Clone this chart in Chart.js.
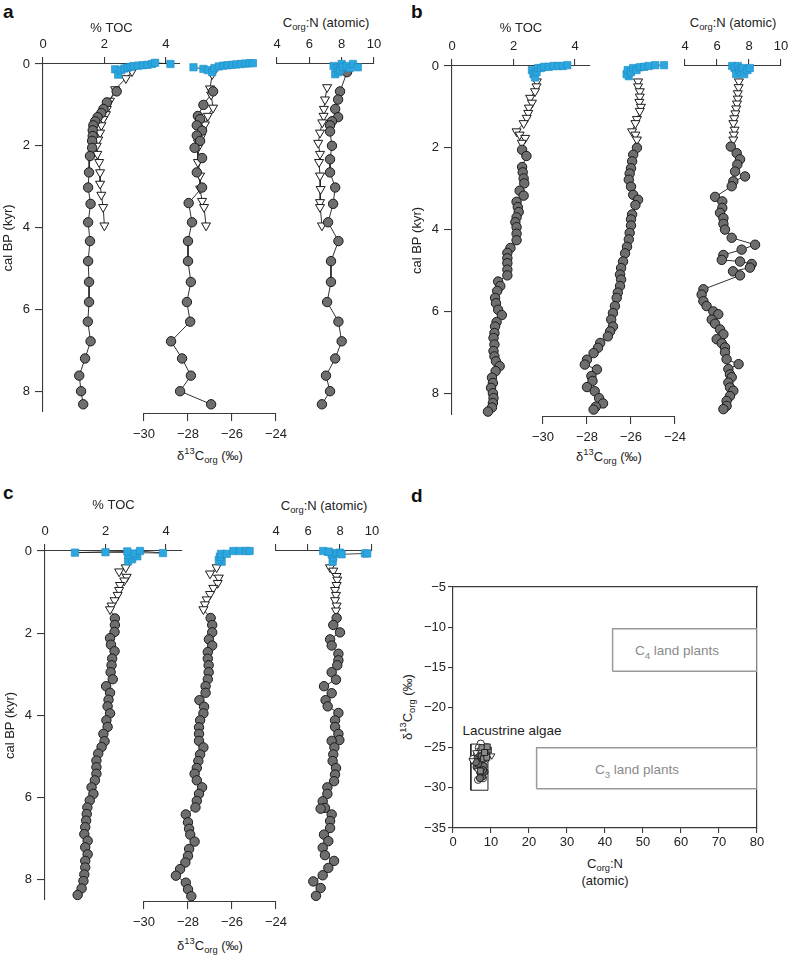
<!DOCTYPE html>
<html><head><meta charset="utf-8">
<script src="https://cdn.jsdelivr.net/npm/chart.js@4.4.1/dist/chart.umd.min.js"></script>
<style>
html,body{margin:0;padding:0;background:#fff;}
#stage{position:relative;width:788px;height:957px;overflow:hidden;font-family:"Liberation Sans",Arial,sans-serif;color:#222;}
#stage canvas{position:absolute;}
.lbl{position:absolute;white-space:nowrap;font-size:13px;line-height:15px;transform:translate(-50%,-50%);}
.big{font-size:13.5px;line-height:16px;}
.gray{color:#8a8a8a;}
.rot{transform:translate(-50%,-50%) rotate(-90deg);}
.panel{position:absolute;font-weight:bold;font-size:19px;line-height:19px;color:#111;}
sub,sup{font-size:72%;line-height:0;}
</style></head><body><div id="stage">
<div class="panel" style="left:3px;top:2px">a</div>
<div class="panel" style="left:411px;top:2px">b</div>
<div class="panel" style="left:3px;top:483px">c</div>
<div class="panel" style="left:411px;top:486px">d</div>
<div class="lbl" style="left:326px;top:22px">C<sub>org</sub>:N (atomic)</div>
<div class="lbl" style="left:733px;top:22px">C<sub>org</sub>:N (atomic)</div>
<div class="lbl" style="left:324px;top:505px">C<sub>org</sub>:N (atomic)</div>
<div class="lbl" style="left:210px;top:455px">δ<sup>13</sup>C<sub>org</sub> (‰)</div>
<div class="lbl" style="left:609px;top:456px">δ<sup>13</sup>C<sub>org</sub> (‰)</div>
<div class="lbl" style="left:210px;top:945px">δ<sup>13</sup>C<sub>org</sub> (‰)</div>
<div class="lbl rot" style="left:407px;top:707px">δ<sup>13</sup>C<sub>org</sub> (‰)</div>
<div class="lbl" style="left:605px;top:863px">C<sub>org</sub>:N</div>
<div class="lbl" style="left:605px;top:880px">(atomic)</div>
<div class="lbl big gray" style="left:677px;top:651px">C<sub>4</sub> land plants</div>
<div class="lbl big gray" style="left:637px;top:770px">C<sub>3</sub> land plants</div>
<div class="lbl big" style="left:512px;top:731px">Lacustrine algae</div>
</div>
<script>
// ---------- tick labels ----------
const ageTicks = [0, 2, 4, 6, 8];
const tocTicks = [0, 2, 4];
const d13Ticks = [-30, -28, -26, -24];
const cnTicks = [4, 6, 8, 10];
const dXTicks = [0, 10, 20, 30, 40, 50, 60, 70, 80];
const dYTicks = [-5, -10, -15, -20, -25, -30, -35];

// ---------- panel a : [age (kyr BP), value] ----------
const aTocSq = [[0.13,2.35],[0.26,2.45],[0.15,2.55],[0.11,2.65],[0.09,2.75],[0.07,2.85],[0.05,2.95],[0.04,3.1],[0.03,3.25],[0.02,3.4],[0.0,3.55],[-0.03,3.65],[0.0,4.15]];
const aTocTri = [[0.18,2.9],[0.35,2.7],[0.62,2.35],[0.9,2.18],[1.1,2.08],[1.23,2.05],[1.35,1.96],[1.5,1.9],[1.68,1.86],[1.85,1.8],[2.0,1.75],[2.2,1.77],[2.4,1.83],[2.65,1.86],[2.93,1.86],[3.2,1.9],[3.5,1.96],[3.95,2.0]];
const aTocCirc = [[0.67,2.4],[0.94,2.08],[1.1,1.97],[1.2,1.9],[1.3,1.78],[1.4,1.7],[1.5,1.64],[1.62,1.62],[1.76,1.62],[1.88,1.6],[2.05,1.6],[2.25,1.53],[2.65,1.5],[3.02,1.47],[3.42,1.55],[3.87,1.47],[4.33,1.53],[4.82,1.47],[5.33,1.5],[5.82,1.5],[6.3,1.46],[6.78,1.55],[7.2,1.37],[7.62,1.18],[8.0,1.24],[8.32,1.31]];
const aD13Sq = [[0.08,-27.75],[0.12,-27.3],[0.15,-27.1],[0.2,-26.9],[0.1,-26.8],[0.06,-26.6],[0.04,-26.4],[0.03,-26.2],[0.02,-26.0],[0.01,-25.8],[0.0,-25.6],[-0.01,-25.4],[-0.02,-25.2],[-0.02,-25.05]];
const aD13Tri = [[0.25,-26.9],[0.6,-27.0],[0.75,-26.95],[1.07,-26.86],[1.27,-27.1],[1.48,-27.23],[1.63,-27.36],[1.78,-27.4],[1.92,-27.55],[2.05,-27.55],[2.4,-27.55],[2.73,-27.45],[3.05,-27.45],[3.35,-27.36],[3.5,-27.27],[3.95,-27.18]];
const aD13Circ = [[0.67,-26.86],[1.0,-27.3],[1.27,-27.55],[1.35,-27.45],[1.5,-27.6],[1.63,-27.36],[1.75,-27.6],[1.88,-27.45],[2.05,-27.7],[2.3,-27.36],[2.65,-27.6],[3.02,-27.36],[3.4,-27.97],[3.87,-27.82],[4.33,-28.0],[4.82,-28.0],[5.33,-27.87],[5.82,-28.05],[6.3,-27.9],[6.78,-28.77],[7.2,-28.27],[7.62,-27.87],[8.0,-28.36],[8.32,-26.95]];
const aCnSq = [[0.25,7.6],[0.05,7.5],[0.1,7.7],[0.2,7.8],[0.15,7.9],[0.0,8.0],[0.08,8.1],[0.05,8.3],[0.1,8.5],[0.0,8.7],[0.08,9.0]];
const aCnTri = [[0.57,7.1],[0.87,6.97],[1.1,6.9],[1.27,6.88],[1.43,6.8],[1.68,6.66],[1.93,6.55],[2.2,6.66],[2.4,6.6],[2.73,6.66],[3.06,6.7],[3.38,6.66],[3.5,6.66],[3.95,6.78]];
const aCnCirc = [[0.2,8.33],[0.67,7.9],[0.87,7.78],[1.1,7.6],[1.3,7.78],[1.4,7.4],[1.5,7.28],[1.65,7.28],[2.0,7.4],[2.33,7.28],[2.65,7.28],[3.02,7.6],[3.42,7.47],[3.87,7.16],[4.33,7.8],[4.82,7.34],[5.33,7.34],[5.82,7.1],[6.3,7.8],[6.78,8.0],[7.2,7.6],[7.62,7.03],[8.0,7.28],[8.32,6.78]];

// ---------- panel b ----------
const bTocSq = [[0.1,2.6],[0.2,2.65],[0.28,2.7],[0.15,2.75],[0.05,2.8],[0.05,2.9],[0.02,3.0],[0.02,3.15],[0.0,3.3],[0.0,3.45],[0.0,3.6],[-0.02,3.75]];
const bTocTri = [[0.38,2.76],[0.5,2.75],[0.62,2.7],[0.78,2.54],[0.9,2.6],[1.02,2.5],[1.15,2.48],[1.27,2.43],[1.4,2.33],[1.6,2.1],[1.68,2.2],[1.76,2.38],[1.88,2.27]];
const bTocCirc = [[2.05,2.28],[2.2,2.42],[2.47,2.28],[2.6,2.3],[2.75,2.33],[2.87,2.35],[3.05,2.2],[3.17,2.33],[3.32,2.1],[3.45,2.14],[3.57,2.17],[3.7,2.1],[3.82,2.06],[3.94,2.1],[4.1,2.1],[4.26,2.1],[4.45,1.9],[4.57,1.8],[4.7,1.8],[4.82,1.8],[4.98,1.8],[5.12,1.8],[5.27,1.5],[5.38,1.57],[5.5,1.47],[5.67,1.4],[5.8,1.43],[5.96,1.5],[6.09,1.62],[6.26,1.45],[6.37,1.4],[6.53,1.38],[6.65,1.35],[6.81,1.38],[6.97,1.35],[7.1,1.38],[7.22,1.43],[7.34,1.55],[7.46,1.42],[7.62,1.3],[7.75,1.33],[7.87,1.27],[8.0,1.33],[8.12,1.35],[8.24,1.33],[8.35,1.3],[8.45,1.17]];
const bD13Sq = [[0.25,-26.1],[0.2,-26.2],[0.1,-26.15],[0.15,-26.0],[0.05,-25.9],[0.1,-25.75],[0.03,-25.6],[0.02,-25.4],[0.0,-25.2],[-0.02,-24.9],[-0.02,-24.5]];
const bD13Tri = [[0.38,-25.68],[0.5,-25.68],[0.62,-25.6],[0.75,-25.6],[0.88,-25.62],[1.0,-25.55],[1.1,-25.6],[1.3,-25.73],[1.4,-25.8],[1.6,-25.95],[1.68,-25.8],[1.8,-25.73]];
const bD13Circ = [[2.0,-25.73],[2.17,-25.9],[2.33,-25.95],[2.5,-26.0],[2.63,-26.06],[2.78,-26.1],[2.95,-26.0],[3.15,-25.9],[3.27,-25.68],[3.4,-25.8],[3.63,-25.95],[3.75,-26.0],[3.9,-26.0],[4.08,-26.06],[4.24,-26.1],[4.42,-26.18],[4.58,-26.27],[4.78,-26.36],[4.94,-26.45],[5.1,-26.5],[5.22,-26.45],[5.38,-26.5],[5.54,-26.6],[5.67,-26.65],[5.87,-26.73],[6.04,-26.82],[6.2,-26.9],[6.37,-26.82],[6.49,-26.95],[6.61,-27.05],[6.77,-27.4],[6.89,-27.5],[7.02,-27.7],[7.18,-28.0],[7.3,-28.1],[7.42,-27.55],[7.58,-27.8],[7.7,-27.75],[7.85,-28.0],[7.95,-27.65],[8.12,-27.45],[8.25,-27.27],[8.33,-27.6],[8.4,-27.7]];
const bCnSq = [[0.0,6.95],[0.05,7.1],[0.2,7.2],[0.0,7.3],[0.1,7.4],[0.15,7.5],[0.05,7.6],[0.2,7.7],[0.1,7.9],[0.05,8.05]];
const bCnTri = [[0.38,7.37],[0.52,7.35],[0.67,7.3],[0.8,7.3],[0.92,7.25],[1.04,7.2],[1.16,7.15],[1.28,7.08],[1.4,7.02],[1.56,7.1],[1.68,7.05],[1.8,7.02]];
const bCnCirc = [[1.97,6.86],[2.13,7.23],[2.28,7.44],[2.41,7.27],[2.58,7.13],[2.7,7.75],[2.82,7.02],[2.94,6.92],[3.2,5.88],[3.31,6.33],[3.47,6.33],[3.59,6.19],[3.72,6.4],[3.86,6.4],[4.0,6.5],[4.2,6.92],[4.37,8.38],[4.49,7.54],[4.62,6.4],[4.74,6.3],[4.78,7.44],[4.84,8.17],[4.93,8.06],[5.02,7.0],[5.12,7.44],[5.46,5.15],[5.59,5.04],[5.75,5.15],[5.87,5.35],[6.0,5.77],[6.07,6.08],[6.2,5.67],[6.3,5.88],[6.44,6.19],[6.56,6.4],[6.68,5.98],[6.78,6.3],[6.88,6.5],[7.0,6.5],[7.17,6.6],[7.29,7.35],[7.41,6.71],[7.54,6.81],[7.61,6.92],[7.74,6.71],[7.86,6.81],[7.94,7.02],[8.07,6.81],[8.19,6.6],[8.31,6.6],[8.39,6.4]];

// ---------- panel c ----------
const cTocSq = [[0.25,2.75],[0.2,2.88],[0.13,3.05],[0.1,2.75],[0.06,2.95],[0.0,3.14],[0.05,3.9],[0.03,2.0],[0.04,0.99],[0.01,2.72]];
const cTocTri = [[0.4,2.67],[0.5,2.45],[0.63,2.7],[0.72,2.62],[0.83,2.48],[0.95,2.45],[1.07,2.4],[1.2,2.3],[1.33,2.2],[1.42,2.15]];
const cTocCirc = [[1.64,2.31],[1.8,2.31],[1.97,2.3],[2.12,2.15],[2.28,2.18],[2.44,2.3],[2.62,2.22],[2.78,2.2],[2.95,2.17],[3.12,2.24],[3.29,2.02],[3.45,2.15],[3.62,2.1],[3.78,2.07],[3.95,2.15],[4.12,2.03],[4.28,2.07],[4.45,1.93],[4.63,1.97],[4.77,1.87],[4.93,1.76],[5.1,1.7],[5.26,1.7],[5.42,1.7],[5.58,1.65],[5.75,1.54],[5.91,1.6],[6.07,1.48],[6.24,1.4],[6.4,1.38],[6.56,1.36],[6.72,1.33],[6.89,1.3],[7.05,1.41],[7.21,1.33],[7.38,1.41],[7.54,1.33],[7.7,1.33],[7.87,1.3],[8.03,1.27],[8.21,1.21],[8.37,1.08]];
const cD13Sq = [[0.26,-26.47],[0.22,-26.6],[0.14,-26.55],[0.07,-26.5],[0.07,-26.24],[0.0,-25.94],[0.0,-25.64],[0.0,-25.36],[0.0,-25.2]];
const cD13Tri = [[0.4,-26.7],[0.55,-27.0],[0.65,-26.6],[0.78,-26.65],[0.9,-26.85],[1.05,-27.0],[1.18,-27.15],[1.3,-27.23],[1.42,-27.3]];
const cD13Circ = [[1.63,-26.97],[1.8,-26.9],[1.98,-26.9],[2.15,-27.05],[2.3,-26.9],[2.46,-27.1],[2.62,-27.1],[2.78,-27.06],[2.95,-27.06],[3.12,-27.1],[3.29,-27.2],[3.45,-27.2],[3.63,-27.48],[3.79,-27.27],[3.95,-27.3],[4.12,-27.45],[4.29,-27.5],[4.45,-27.5],[4.62,-27.5],[4.78,-27.3],[4.95,-27.45],[5.11,-27.53],[5.28,-27.6],[5.42,-27.7],[5.58,-27.6],[5.75,-27.36],[5.91,-27.5],[6.08,-27.6],[6.24,-27.66],[6.41,-28.1],[6.6,-28.0],[6.76,-27.95],[6.9,-27.9],[7.07,-27.7],[7.25,-27.95],[7.42,-28.0],[7.58,-28.12],[7.74,-28.36],[7.9,-28.55],[8.07,-28.1],[8.23,-28.0],[8.4,-27.85]];
const cCnSq = [[0.26,7.54],[0.16,7.58],[0.08,7.48],[0.02,7.25],[0.0,6.95],[0.02,7.3],[0.05,7.79],[0.04,8.0],[0.08,8.1],[0.06,9.56],[0.06,9.7]];
const cCnTri = [[0.4,7.38],[0.48,7.58],[0.61,7.79],[0.7,7.83],[0.83,7.79],[0.95,7.69],[1.07,7.75],[1.2,7.69],[1.33,7.79],[1.45,7.75]];
const cCnCirc = [[1.63,7.79],[1.8,7.58],[1.98,8.0],[2.15,7.38],[2.3,7.48],[2.5,7.9],[2.66,7.9],[2.78,7.83],[2.95,7.48],[3.13,7.75],[3.29,7.0],[3.46,7.48],[3.63,7.1],[3.78,7.23],[3.94,7.9],[4.12,7.69],[4.28,7.69],[4.45,7.9],[4.6,7.96],[4.62,7.48],[4.78,7.65],[4.95,7.58],[5.11,7.54],[5.28,7.75],[5.44,7.69],[5.6,7.63],[5.75,7.21],[5.91,7.21],[6.09,6.92],[6.25,7.06],[6.27,6.79],[6.41,7.48],[6.57,7.38],[6.74,7.38],[6.9,7.0],[7.06,7.27],[7.22,6.92],[7.4,7.06],[7.54,7.63],[7.71,7.27],[7.89,6.92],[8.04,6.33],[8.2,6.79],[8.39,6.5]];

// ---------- panel d : [Corg:N, d13C] ----------
const dOpenCirc = [[7.3,-24.5],[6.8,-25.0],[7.6,-25.3],[6.3,-25.9],[5.3,-26.4],[7.9,-28.8],[6.6,-29.0]];
const dGrayCirc = [[6.5,-26.2],[7.0,-26.7],[7.4,-27.2],[6.8,-27.6],[7.2,-28.1],[7.7,-28.6],[6.2,-27.4],[7.8,-26.4],[8.1,-27.3],[6.9,-25.8],[7.5,-26.0],[8.3,-28.0],[6.6,-27.0],[7.1,-28.8],[7.9,-27.8],[6.0,-26.8]];
const dTri = [[5.0,-26.6],[6.0,-25.6],[7.1,-25.3],[8.5,-25.7],[10.2,-26.0],[9.1,-26.4],[6.4,-27.8],[7.5,-27.9],[8.0,-25.2]];
const dSq = [[9.3,-25.3],[8.7,-25.9],[8.0,-26.4],[7.6,-25.0],[9.0,-24.9],[8.9,-26.2],[7.2,-27.9],[8.3,-25.6]];
// source boxes: [CN min, CN max, d13C min, d13C max]
const c4Box = [42, 80, -15.5, -10.2];
const c3Box = [22, 80, -30.1, -25.0];
const algaeBox = [4.7, 9.2, -30.3, -24.55];

// ---------- drawing ----------
const stage = document.getElementById('stage');
const FONT = {family: '"Liberation Sans", Arial, sans-serif', size: 13};
const AX = '#3a3a3a';
const fmt = v => v < 0 ? '\u2212' + Math.abs(v) : String(v);
const toXY = arr => arr.map(p => ({x: p[1], y: p[0]}));
const SQ = {pointStyle:'rect', pointRadius:5.2, pointBackgroundColor:'#2ba6df', pointBorderColor:'#1f8cc2', pointBorderWidth:0.6, borderColor:'#1a1a1a', borderWidth:0.8, showLine:true};
const CI = {pointStyle:'circle', pointRadius:4.7, pointBackgroundColor:'#6e6e6e', pointBorderColor:'#1a1a1a', pointBorderWidth:1, showLine:false};
const TR = {pointStyle:'triangle', pointRotation:180, pointRadius:5.2, pointBackgroundColor:'#ffffff', pointBorderColor:'#1a1a1a', pointBorderWidth:1, showLine:false};
const LN = {pointRadius:0, borderColor:'#1a1a1a', borderWidth:0.9, showLine:true};

function strip(o) {
  const P = 20;
  const leftW = o.yAxis ? 44 : 0;
  const topH = o.xPos === 'top' ? (o.xTitle ? o.t - (o.titleY - 10) : 30) : 0;
  const botH = o.xPos === 'bottom' ? 30 : 0;
  const W = Math.round(o.r - o.l + 2 * P + leftW);
  const H = Math.round(o.b - o.t + 2 * P + topH + botH);
  const cv = document.createElement('canvas');
  cv.width = W; cv.height = H;
  cv.style.left = (o.l - P - leftW) + 'px';
  cv.style.top = (o.t - P - topH) + 'px';
  cv.style.width = W + 'px'; cv.style.height = H + 'px';
  stage.appendChild(cv);
  const datasets = [];
  if (o.sq) datasets.push({...SQ, data: toXY(o.sq)});
  if (o.circ) datasets.push({...CI, data: toXY(o.circ)});
  if (o.tri) datasets.push({...TR, data: toXY(o.tri)});
  (o.lines || []).forEach(l => datasets.push({...LN, data: toXY(l)}));
  datasets.forEach(d => { d.clip = false; });
  new Chart(cv, {type: 'scatter', data: {datasets}, options: {
    responsive: false, animation: false, devicePixelRatio: 1, events: [],
    layout: {padding: P},
    plugins: {legend: {display: false}, tooltip: {enabled: false}},
    scales: {
      x: {type: 'linear', position: o.xPos, min: o.xMin, max: o.xMax,
        afterBuildTicks: s => { s.ticks = o.xTicks.map(v => ({value: v})); },
        afterFit: s => { s.height = o.xPos === 'top' ? topH : botH; },
        ticks: {font: FONT, color: '#222', padding: o.xPos === 'top' ? 5 : 6, callback: fmt, autoSkip: false, maxRotation: 0},
        grid: {drawOnChartArea: false, tickLength: 7, color: AX, lineWidth: 1.1},
        border: {display: true, color: AX, width: 1.1},
        title: {display: !!o.xTitle, text: o.xTitle || '', font: FONT, color: '#222', padding: {top: 2.2, bottom: 0}}},
      y: {type: 'linear', position: 'left', reverse: true, min: 0, max: o.yMax, display: !!o.yAxis,
        afterBuildTicks: s => { s.ticks = ageTicks.map(v => ({value: v})); },
        afterFit: s => { s.width = leftW; },
        ticks: {font: FONT, color: '#222', padding: 5, autoSkip: false},
        grid: {drawOnChartArea: false, tickLength: 8, color: AX, lineWidth: 1.1},
        border: {display: true, color: AX, width: 1.1},
        title: {display: true, text: 'cal BP (kyr)', font: FONT, color: '#222', padding: {top: 1.5, bottom: 0}}}
    }
  }});
}

function column(g, toc, d13, cn) {
  const yM = b => (b - g.y0) / g.k;
  strip({l: g.yx, r: g.tocR, t: g.y0, b: g.yB, xPos: 'top', xMin: 0, xMax: (g.tocR - g.yx) / g.tocK,
    xTicks: tocTicks, xTitle: '% TOC', titleY: g.titleY, yAxis: true, yMax: yM(g.yB),
    sq: toc[0], circ: toc[2], tri: toc[1], lines: g.joined ? [toc[1].concat(toc[2])] : [toc[1], toc[2]]});
  strip({l: g.dL, r: g.dR, t: g.y0, b: g.dB, xPos: 'bottom', xMin: -30, xMax: -24, xTicks: d13Ticks,
    yAxis: false, yMax: yM(g.dB),
    sq: d13[0], circ: d13[2], tri: d13[1], lines: g.joined ? [d13[1].concat(d13[2])] : [d13[1], d13[2]]});
  strip({l: g.cL, r: g.cR, t: g.y0, b: g.yB, xPos: 'top', xMin: 4, xMax: 10, xTicks: cnTicks,
    yAxis: false, yMax: yM(g.yB),
    sq: cn[0], circ: cn[2], tri: cn[1], lines: g.joined ? [cn[1].concat(cn[2])] : [cn[1], cn[2]]});
}

column({y0: 64, k: 40.9, yx: 43, yB: 412, tocR: 180, tocK: 30.7, titleY: 28, dL: 144, dR: 276, dB: 414, cL: 277, cR: 374, joined: false},
  [aTocSq, aTocTri, aTocCirc], [aD13Sq, aD13Tri, aD13Circ], [aCnSq, aCnTri, aCnCirc]);
column({y0: 66, k: 40.9, yx: 452, yB: 415, tocR: 590, tocK: 30.75, titleY: 28, dL: 543, dR: 675, dB: 417, cL: 685, cR: 781, joined: true},
  [bTocSq, bTocTri, bTocCirc], [bD13Sq, bD13Tri, bD13Circ], [bCnSq, bCnTri, bCnCirc]);
column({y0: 551, k: 41.1, yx: 45, yB: 900, tocR: 182, tocK: 30.25, titleY: 505, dL: 144, dR: 276, dB: 902, cL: 276, cR: 372, joined: true},
  [cTocSq, cTocTri, cTocCirc], [cD13Sq, cD13Tri, cD13Circ], [cCnSq, cCnTri, cCnCirc]);

// ---------- panel d ----------
(function () {
  const P = 20, leftW = 42, botH = 24;
  const l = 453, r = 757, t = 587, b = 828;
  const W = r - l + 2 * P + leftW, H = b - t + 2 * P + botH;
  const cv = document.createElement('canvas');
  cv.width = W; cv.height = H;
  cv.style.left = (l - P - leftW) + 'px'; cv.style.top = (t - P) + 'px';
  cv.style.width = W + 'px'; cv.style.height = H + 'px';
  stage.appendChild(cv);
  const rect = bx => [{x: bx[0], y: bx[2]}, {x: bx[1], y: bx[2]}, {x: bx[1], y: bx[3]}, {x: bx[0], y: bx[3]}, {x: bx[0], y: bx[2]}];
  const pts = arr => arr.map(p => ({x: p[0], y: p[1]}));
  const mk = {pointRadius: 3.6, pointBorderColor: '#1a1a1a', pointBorderWidth: 0.9, showLine: false, clip: false};
  const datasets = [
    {...mk, pointStyle: 'rect', pointRadius: 4.2, pointBackgroundColor: '#8a8a8a', data: pts(dSq)},
    {...mk, pointStyle: 'triangle', pointRotation: 180, pointBackgroundColor: '#ffffff', data: pts(dTri)},
    {...mk, pointStyle: 'circle', pointBackgroundColor: '#6e6e6e', data: pts(dGrayCirc)},
    {...mk, pointStyle: 'circle', pointBackgroundColor: '#ffffff', data: pts(dOpenCirc)},
    {data: rect(algaeBox), showLine: true, pointRadius: 0, borderColor: '#222', borderWidth: 1},
    {data: rect(c3Box), showLine: true, pointRadius: 0, borderColor: '#9a9a9a', borderWidth: 1.5},
    {data: rect(c4Box), showLine: true, pointRadius: 0, borderColor: '#9a9a9a', borderWidth: 1.5}
  ];
  const frame = {display: true, ticks: {display: false}, grid: {display: false}, border: {display: true, color: AX, width: 1.2}};
  new Chart(cv, {type: 'scatter', data: {datasets}, options: {
    responsive: false, animation: false, devicePixelRatio: 1, events: [],
    layout: {padding: P},
    plugins: {legend: {display: false}, tooltip: {enabled: false}},
    scales: {
      x: {type: 'linear', position: 'bottom', min: 0, max: 80,
        afterBuildTicks: s => { s.ticks = dXTicks.map(v => ({value: v})); },
        afterFit: s => { s.height = botH; },
        ticks: {font: FONT, color: '#222', padding: 2, autoSkip: false, maxRotation: 0},
        grid: {drawOnChartArea: false, tickLength: 5, color: AX, lineWidth: 1.1},
        border: {display: true, color: AX, width: 1.2}},
      y: {type: 'linear', position: 'left', min: -35, max: -5,
        afterBuildTicks: s => { s.ticks = dYTicks.map(v => ({value: v})); },
        afterFit: s => { s.width = leftW; },
        ticks: {font: FONT, color: '#222', padding: 2, autoSkip: false, callback: fmt},
        grid: {drawOnChartArea: false, tickLength: 5, color: AX, lineWidth: 1.1},
        border: {display: true, color: AX, width: 1.2}},
      x2: {type: 'linear', axis: 'x', position: 'top', min: 0, max: 80, ...frame, afterFit: s => { s.height = 0; }},
      y2: {type: 'linear', axis: 'y', position: 'right', min: -35, max: -5, ...frame, afterFit: s => { s.width = 0; }}
    }
  }});
})();
</script></body></html>
